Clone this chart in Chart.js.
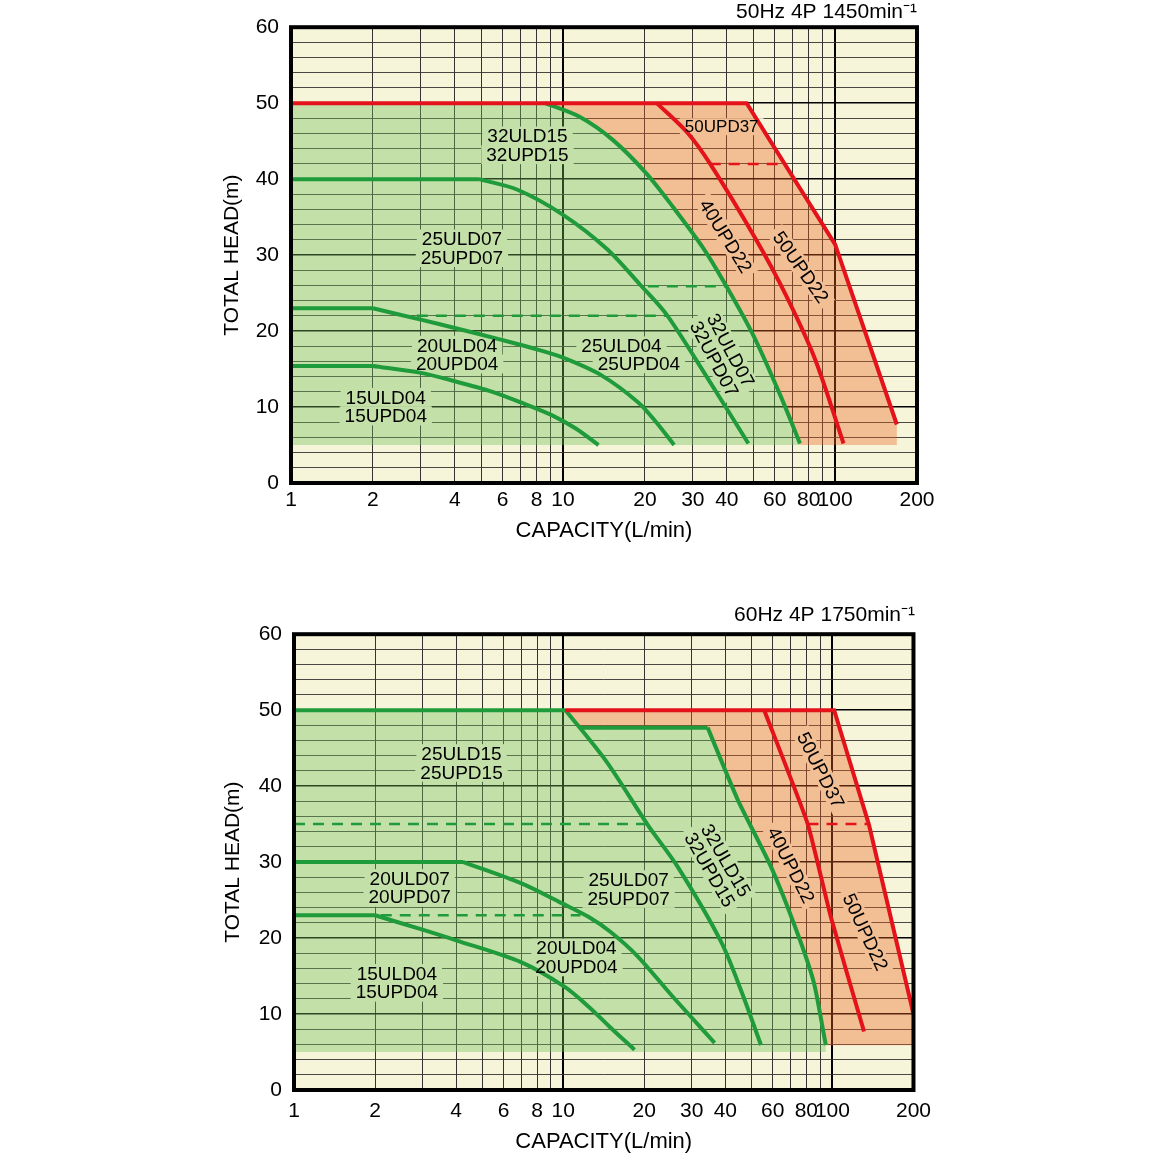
<!DOCTYPE html>
<html>
<head>
<meta charset="utf-8">
<script src="https://cdn.jsdelivr.net/npm/chart.js@4.4.1/dist/chart.umd.min.js"></script>
<style>
body { margin: 0; background: #fff; width: 1160px; height: 1160px; position: relative; overflow: hidden; }
canvas { position: absolute; left: 0; }
#c50 { top: 0; }
#c60 { top: 590px; }
</style>
</head>
<body>
<canvas id="c50" width="940" height="550"></canvas>
<canvas id="c60" width="940" height="570"></canvas>
<script>
// Axis values
const xGrid = [1, 2, 3, 4, 5, 6, 7, 8, 9, 10, 20, 30, 40, 50, 60, 70, 80, 90, 100, 200];
const xTickLabels = [1, 2, 4, 6, 8, 10, 20, 30, 40, 60, 80, 100, 200];
const yTickLabels = [0, 10, 20, 30, 40, 50, 60];

// 50Hz 4P 1450min-1 : [capacity L/min, total head m]
const hz50_15ULD04 = [[1, 15.4], [2, 15.4], [3, 14.5], [4, 13.4], [5.5, 12], [7, 10.6], [9, 9], [11.1, 7.2], [13.5, 5]];
const hz50_20ULD04 = [[1, 23], [2, 23], [3, 21.5], [4, 20.4], [6, 18.8], [8, 17.6], [10, 16.5], [13.8, 14.2], [18.9, 10.6], [22, 8], [25.6, 5]];
const hz50_25ULD07 = [[1, 40], [4.9, 40], [6.8, 38.6], [10, 35.3], [14.5, 30.8], [19.2, 26.1], [24.1, 22.1], [33.7, 14], [48, 5.2]];
const hz50_32ULD15 = [[8.6, 50], [11.5, 48.2], [15.3, 45.1], [20.3, 40.7], [25.4, 36.3], [32.8, 30.9], [40, 25.8], [50.1, 19.4], [62.8, 11.6], [74.3, 5.2]];
const hz50_40UPD22 = [[22.1, 50], [28.5, 46.2], [34.6, 42.1], [51.5, 31.9], [65.8, 24.8], [84.4, 16.3], [107.4, 5.2]];
const hz50_50UPD37 = [[1, 50], [47.3, 50], [100, 31.4], [168.6, 7.7]];
const hz50_25ULD04 = [[2.9, 22], [24.1, 22]];
const hz50_32ULD07 = [[20.5, 25.9], [40, 25.9]];
const hz50_50UPD22 = [[34.6, 42], [65, 42]];
const hz50_floor = 5;

// 60Hz 4P 1750min-1
const hz60_15ULD04 = [[1, 23], [2, 23], [3, 21.1], [4, 19.7], [7, 16.8], [10.1, 13.6], [12.4, 11], [15, 8.2], [18.4, 5.3]];
const hz60_20ULD07 = [[1, 30], [4.26, 30], [7, 27.2], [9.86, 24.6], [12.4, 22.8], [15, 20.8], [18.9, 17.6], [25.2, 12.5], [36.5, 6.2]];
const hz60_25ULD15 = [[1, 50], [10.2, 50], [14.5, 43.2], [20.6, 34.9], [26.7, 29.3], [38.6, 19.5], [46, 12.9], [54.3, 5.9]];
const hz60_32ULD15 = [[11.5, 47.7], [34.4, 47.7], [44.5, 38.2], [59.1, 29.4], [74.2, 20.6], [85.5, 14], [94.5, 5.9]];
const hz60_40UPD22 = [[55.8, 50], [80.8, 35.1], [98.6, 22.8], [131, 7.7]];
const hz60_50UPD37 = [[10.2, 50], [101.5, 50], [136.7, 34.9], [200, 10]];
const hz60_25ULD07 = [[1, 35], [20.6, 35]];
const hz60_20ULD04 = [[2.1, 23], [11.6, 23]];
const hz60_50UPD22 = [[80.8, 35], [136.7, 35]];
const hz60_floor = 5;
const hz60_floorOrange = 5.9;

// colours
const CREAM = '#f7f5d9';
const GREEN = '#1f9b3b';
const RED = '#e3121b';
const GREEN_FILL = 'rgba(113,190,93,0.38)';
const ORANGE_FILL = 'rgba(234,100,35,0.38)';
const FONT = "'Liberation Sans', Arial, sans-serif";

Chart.defaults.font.family = FONT;
Chart.defaults.color = '#000';

const toXY = pts => pts.map(([x, y]) => ({ x, y }));

// a flat start is kept as its own piece so the knee stays sharp
function curve(pts, color, tension) {
    const base = { borderColor: color, borderWidth: 4, pointRadius: 0, fill: false, order: color === RED ? 0 : 1 };
    if (pts[0][1] === pts[1][1] && pts.length > 2 && tension) {
        return [
            { ...base, data: toXY(pts.slice(0, 2)), tension: 0 },
            { ...base, data: toXY(pts.slice(1)), tension: tension }
        ];
    }
    return [{ ...base, data: toXY(pts), tension: tension }];
}

function dashed(pts, color) {
    return { data: toXY(pts), borderColor: color, borderWidth: 2.5, borderDash: [11, 8], pointRadius: 0, fill: false, tension: 0, order: 1 };
}

function area(pts, color) {
    return { data: toXY(pts), borderColor: 'rgba(0,0,0,0)', borderWidth: 0, backgroundColor: color, fill: 'shape', pointRadius: 0, tension: 0, order: 5 };
}

const last = a => a[a.length - 1];

// fill regions
const green50 = [[1, hz50_floor], [1, 50], ...hz50_32ULD15, [last(hz50_32ULD15)[0], hz50_floor]];
const orange50 = [[hz50_32ULD15[0][0], 50], ...hz50_50UPD37.slice(1), [last(hz50_50UPD37)[0], hz50_floor],
    [last(hz50_32ULD15)[0], hz50_floor], ...hz50_32ULD15.slice().reverse()];
const green60 = [[1, hz60_floor], [1, 50], [hz60_25ULD15[1][0], 50], ...hz60_32ULD15,
    [last(hz60_32ULD15)[0], hz60_floor]];
const orange60 = [...hz60_50UPD37, [last(hz60_50UPD37)[0], hz60_floorOrange],
    [last(hz60_32ULD15)[0], hz60_floorOrange], ...hz60_32ULD15.slice().reverse()];

// text labels (data coordinates)
const labels50 = [
    { x: 7.4, y: 44.45, text: ['32ULD15', '32UPD15'] },
    { x: 38.3, y: 46.9, text: ['50UPD37'], size: 17 },
    { x: 4.25, y: 30.9, text: ['25ULD07', '25UPD07'] },
    { x: 39.6, y: 32.5, text: ['40UPD22'], rot: 58 },
    { x: 74.8, y: 28.4, text: ['50UPD22'], rot: 55 },
    { x: 38.5, y: 16.9, text: ['32ULD07', '32UPD07'], rot: 62 },
    { x: 4.08, y: 16.9, text: ['20ULD04', '20UPD04'] },
    { x: 16.4, y: 18.05, text: ['25ULD04'] },
    { x: 19, y: 15.7, text: ['25UPD04'] },
    { x: 2.23, y: 10.05, text: ['15ULD04', '15UPD04'] }
];
const labels60 = [
    { x: 4.19, y: 43.05, text: ['25ULD15', '25UPD15'] },
    { x: 2.69, y: 26.6, text: ['20ULD07', '20UPD07'] },
    { x: 17.5, y: 26.45, text: ['25ULD07', '25UPD07'] },
    { x: 11.2, y: 17.45, text: ['20ULD04', '20UPD04'] },
    { x: 2.41, y: 14.1, text: ['15ULD04', '15UPD04'] },
    { x: 37.5, y: 29.6, text: ['32ULD15', '32UPD15'], rot: 60 },
    { x: 70.1, y: 29.6, text: ['40UPD22'], rot: 63 },
    { x: 90.5, y: 42.1, text: ['50UPD37'], rot: 63 },
    { x: 132.5, y: 20.8, text: ['50UPD22'], rot: 65 }
];

function drawLabels(chart, items, bgOnly) {
    const ctx = chart.ctx, xs = chart.scales.x, ys = chart.scales.y;
    items.forEach(it => {
        const size = it.size || 19;
        ctx.save();
        ctx.translate(xs.getPixelForValue(it.x), ys.getPixelForValue(it.y));
        ctx.rotate((it.rot || 0) * Math.PI / 180);
        ctx.font = size + 'px ' + FONT;
        ctx.textAlign = 'center';
        ctx.textBaseline = 'middle';
        const n = it.text.length;
        it.text.forEach((t, i) => {
            const yy = (i - (n - 1) / 2) * size * 0.98;
            if (bgOnly) {
                const w = ctx.measureText(t).width + 10;
                ctx.fillStyle = CREAM;
                ctx.fillRect(-w / 2, yy - size * 0.5, w, size);
            } else {
                ctx.fillStyle = '#000';
                ctx.fillText(t, 0, yy + 1);
            }
        });
        ctx.restore();
    });
}

const plotDecor = {
    id: 'plotDecor',
    beforeDraw(chart) {
        const { ctx, chartArea: a } = chart;
        ctx.save();
        ctx.fillStyle = CREAM;
        ctx.fillRect(a.left, a.top, a.right - a.left, a.bottom - a.top);
        ctx.restore();
    },
    beforeDatasetsDraw(chart, args, opts) { drawLabels(chart, opts.items, true); },
    afterDatasetsDraw(chart, args, opts) {
        drawLabels(chart, opts.items, false);
        const { ctx, chartArea: a } = chart;
        ctx.save();
        ctx.strokeStyle = '#000';
        ctx.lineWidth = 4;
        ctx.strokeRect(a.left, a.top, a.right - a.left, a.bottom - a.top);
        ctx.restore();
    }
};

function makeChart(id, o) {
    new Chart(document.getElementById(id), {
        type: 'line',
        data: { datasets: o.datasets },
        plugins: [plotDecor],
        options: {
            responsive: false,
            animation: false,
            events: [],
            layout: { padding: { left: 0, right: o.padRight, top: 0, bottom: 0 } },
            plugins: {
                legend: { display: false },
                tooltip: { enabled: false },
                title: { display: true, text: o.title, align: 'end', color: '#000', font: { size: 21, weight: 'normal' }, padding: o.titlePad },
                plotDecor: { items: o.labels }
            },
            scales: {
                x: {
                    type: 'logarithmic', min: 1, max: 200,
                    afterBuildTicks: s => { s.ticks = xGrid.map(v => ({ value: v })); },
                    afterFit: s => { s.height = o.xHeight; },
                    ticks: {
                        autoSkip: false, maxRotation: 0, minRotation: 0, padding: o.xTickPad,
                        font: { size: 21 }, color: '#000',
                        callback: v => xTickLabels.includes(v) ? String(v) : ''
                    },
                    grid: {
                        drawTicks: false,
                        color: c => (c.tick && (c.tick.value === 10 || c.tick.value === 100)) ? '#000' : '#333',
                        lineWidth: c => (c.tick && (c.tick.value === 10 || c.tick.value === 100)) ? 2 : 1
                    },
                    border: { display: false },
                    title: { display: true, text: 'CAPACITY(L/min)', color: '#000', font: { size: 22 }, padding: { top: 0, bottom: o.xTitlePad } }
                },
                y: {
                    type: 'linear', min: 0, max: 60,
                    afterFit: s => { s.width = o.yWidth; },
                    ticks: {
                        stepSize: 2, autoSkip: false, padding: 12, font: { size: 21 }, color: '#000',
                        callback: v => yTickLabels.includes(v) ? String(v) : ''
                    },
                    grid: {
                        drawTicks: false,
                        color: c => (c.tick && c.tick.value % 10 === 0) ? '#000' : '#333',
                        lineWidth: c => (c.tick && c.tick.value % 10 === 0) ? 1.6 : 0.9
                    },
                    border: { display: false },
                    title: { display: true, text: 'TOTAL HEAD(m)', color: '#000', font: { size: 21 }, padding: { top: o.yTitlePad, bottom: 0 } }
                }
            }
        }
    });
}

makeChart('c50', {
    title: '50Hz 4P 1450min⁻¹',
    titlePad: { top: 0, bottom: 2 },
    padRight: 23, yWidth: 291, xHeight: 67, xTickPad: 5, xTitlePad: 6, yTitlePad: 220,
    labels: labels50,
    datasets: [
        ...curve(hz50_50UPD37, RED, 0),
        ...curve(hz50_40UPD22, RED, 0.3),
        dashed(hz50_50UPD22, RED),
        ...curve(hz50_15ULD04, GREEN, 0.3),
        ...curve(hz50_20ULD04, GREEN, 0.3),
        ...curve(hz50_25ULD07, GREEN, 0.3),
        ...curve(hz50_32ULD15, GREEN, 0.3),
        dashed(hz50_25ULD04, GREEN),
        dashed(hz50_32ULD07, GREEN),
        area(green50, GREEN_FILL),
        area(orange50, ORANGE_FILL)
    ]
});

makeChart('c60', {
    title: '60Hz 4P 1750min⁻¹',
    titlePad: { top: 13, bottom: 6 },
    padRight: 25, yWidth: 294, xHeight: 70, xTickPad: 9, xTitlePad: 5, yTitlePad: 221,
    labels: labels60,
    datasets: [
        ...curve(hz60_50UPD37, RED, 0),
        ...curve(hz60_40UPD22, RED, 0.15),
        dashed(hz60_50UPD22, RED),
        ...curve(hz60_15ULD04, GREEN, 0.3),
        ...curve(hz60_20ULD07, GREEN, 0.3),
        ...curve(hz60_25ULD15, GREEN, 0.3),
        ...curve(hz60_32ULD15, GREEN, 0.2),
        dashed(hz60_25ULD07, GREEN),
        dashed(hz60_20ULD04, GREEN),
        area(green60, GREEN_FILL),
        area(orange60, ORANGE_FILL)
    ]
});
</script>
</body>
</html>
